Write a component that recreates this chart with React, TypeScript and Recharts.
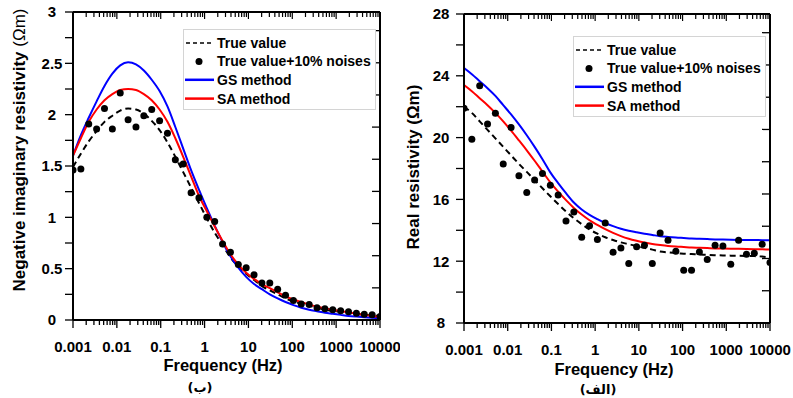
import React from 'react';
import { ComposedChart, Line, XAxis, YAxis, Legend, Label } from 'recharts';

// ---------- data ----------
const frequencies = [0.001, 0.001512, 0.002285, 0.003455, 0.005223, 0.007896, 0.01194, 0.01805, 0.02728, 0.04125,
  0.06236, 0.09428, 0.1425, 0.2154, 0.3257, 0.4924, 0.7443, 1.125, 1.701, 2.572,
  3.888, 5.878, 8.886, 13.43, 20.31, 30.7, 46.42, 70.18, 106.1, 160.4,
  242.5, 366.6, 554.1, 837.7, 1266, 1914, 2894, 4375, 6614, 10000];

const imagTrue = [1.49, 1.62, 1.74, 1.84, 1.93, 1.99, 2.04, 2.06, 2.05, 2.01,
  1.94, 1.85, 1.73, 1.59, 1.44, 1.29, 1.14, 0.99, 0.85, 0.73,
  0.61, 0.52, 0.45, 0.39, 0.33, 0.29, 0.25, 0.21, 0.18, 0.16,
  0.14, 0.12, 0.1, 0.09, 0.08, 0.07, 0.06, 0.05, 0.045, 0.04];
const imagNoisy = [1.46, 1.47, 1.91, 1.86, 2.06, 1.86, 2.21, 1.95, 1.88, 1.99,
  2.05, 1.94, 1.82, 1.56, 1.52, 1.24, 1.19, 1.0, 0.96, 0.74,
  0.66, 0.54, 0.51, 0.44, 0.36, 0.36, 0.3, 0.24, 0.19, 0.155,
  0.15, 0.12, 0.11, 0.1, 0.09, 0.08, 0.065, 0.055, 0.05, 0.035];
const imagGS = [1.6, 1.8, 1.97, 2.13, 2.28, 2.4, 2.48, 2.51, 2.49, 2.43,
  2.34, 2.23, 2.08, 1.88, 1.67, 1.46, 1.27, 1.09, 0.92, 0.76,
  0.62, 0.51, 0.42, 0.35, 0.3, 0.25, 0.21, 0.175, 0.145, 0.12,
  0.1, 0.085, 0.07, 0.06, 0.05, 0.04, 0.033, 0.027, 0.022, 0.016];
const imagSA = [1.6, 1.77, 1.93, 2.05, 2.14, 2.2, 2.24, 2.25, 2.24, 2.2,
  2.14, 2.05, 1.93, 1.77, 1.59, 1.4, 1.21, 1.06, 0.91, 0.77,
  0.64, 0.54, 0.46, 0.4, 0.35, 0.31, 0.27, 0.23, 0.2, 0.175,
  0.15, 0.13, 0.115, 0.1, 0.085, 0.075, 0.06, 0.05, 0.04, 0.03];

const realTrue = [22.0, 21.6, 21.05, 20.5, 19.95, 19.4, 18.85, 18.3, 17.78, 17.25,
  16.72, 16.2, 15.7, 15.22, 14.78, 14.4, 14.05, 13.78, 13.55, 13.37,
  13.22, 13.1, 12.98, 12.87, 12.75, 12.63, 12.57, 12.52, 12.49, 12.46,
  12.43, 12.41, 12.39, 12.37, 12.36, 12.35, 12.34, 12.33, 12.3, 12.24];
const realNoisy = [21.9, 19.9, 23.36, 20.88, 21.57, 18.29, 20.66, 17.53, 16.45, 17.25,
  17.68, 16.92, 16.28, 14.61, 15.19, 13.55, 14.29, 13.4, 14.48, 12.58,
  12.86, 11.85, 12.93, 13.04, 11.85, 13.83, 13.36, 12.65, 11.42, 11.42,
  12.6, 12.11, 13.04, 12.99, 11.8, 13.36, 12.45, 12.52, 13.1, 11.91];
const realGS = [24.5, 24.1, 23.65, 23.2, 22.7, 22.1, 21.5, 20.85, 20.15, 19.4,
  18.6, 17.75, 17.05, 16.4, 15.8, 15.35, 15.0, 14.72, 14.47, 14.27,
  14.1, 13.97, 13.87, 13.78, 13.7, 13.62, 13.57, 13.53, 13.5, 13.47,
  13.45, 13.43, 13.41, 13.4, 13.39, 13.38, 13.37, 13.37, 13.36, 13.36];
const realSA = [23.4, 23.0, 22.55, 22.1, 21.6, 21.05, 20.45, 19.82, 19.18, 18.5,
  17.8, 17.1, 16.5, 15.95, 15.45, 15.02, 14.65, 14.35, 14.07, 13.83,
  13.62, 13.45, 13.32, 13.21, 13.12, 13.05, 12.99, 12.95, 12.92, 12.89,
  12.87, 12.85, 12.83, 12.82, 12.81, 12.8, 12.79, 12.78, 12.77, 12.76];

const xMajorTicks = [0.001, 0.01, 0.1, 1, 10, 100, 1000, 10000];
const xMinorFactors = [2, 3, 4, 5, 6, 7, 8, 9];
const leftYTicks = [0, 0.25, 0.5, 0.75, 1, 1.25, 1.5, 1.75, 2, 2.25, 2.5, 2.75, 3];
const leftYLabels = [0, 0.5, 1, 1.5, 2, 2.5, 3];
const rightYTicks = [8, 10, 12, 14, 16, 18, 20, 22, 24, 26, 28];
const rightYLabels = [8, 12, 16, 20, 24, 28];
const mirrorTicks = [1, 2, 3, 4, 5, 6, 7, 8, 9];

const legendNames = ['True value', 'True value+10% noises', 'GS method', 'SA method'];

// ---------- helpers ----------
const FONT = '"Liberation Sans", Arial, Helvetica, sans-serif';
const BLUE = '#0000ff';
const RED = '#ff0000';

const xAllTicks = [
  ...xMajorTicks,
  ...xMajorTicks.slice(0, -1).flatMap((d) => xMinorFactors.map((k) => +(d * k).toPrecision(6))),
].sort((a, b) => a - b);

const isMajor = (v: number) => xMajorTicks.some((m) => Math.abs(m - v) / m < 1e-6);

const leftData = frequencies.map((f, i) => ({ f, tv: imagTrue[i], nz: imagNoisy[i], gs: imagGS[i], sa: imagSA[i] }));
const rightData = frequencies.map((f, i) => ({ f, tv: realTrue[i], nz: realNoisy[i], gs: realGS[i], sa: realSA[i] }));

const BottomTick = (props: any) => {
  const { x, y, payload } = props;
  const major = isMajor(payload.value);
  return (
    <g>
      <line x1={x} x2={x} y1={y} y2={y + (major ? 8 : 5)} stroke="#000" strokeWidth={1.3} />
      {major && (
        <text x={x} y={y + 32} textAnchor="middle" fontFamily={FONT} fontWeight="bold" fontSize={15} fill="#000">
          {String(payload.value)}
        </text>
      )}
    </g>
  );
};

// top frame ticks point down into the plot
const TopTick = (props: any) => {
  const { x, y, payload } = props;
  const major = isMajor(payload.value);
  return <line x1={x} x2={x} y1={y} y2={y + (major ? 7 : 5)} stroke="#000" strokeWidth={1.2} />;
};

// right frame ticks point left into the plot
const RightTick = (props: any) => {
  const { x, y } = props;
  return <line x1={x} x2={x - 8} y1={y} y2={y} stroke="#000" strokeWidth={1.3} />;
};

const makeYTick = (labels: number[], dx: number) => (props: any) => {
  const { x, y, payload } = props;
  if (!labels.includes(payload.value)) return <g />;
  return (
    <text x={x - dx} y={y} dy="0.36em" textAnchor="middle" fontFamily={FONT} fontWeight="bold" fontSize={15} fill="#000">
      {String(payload.value)}
    </text>
  );
};

const LegendBox = () => (
  <svg width={194} height={82} style={{ display: 'block' }}>
    <rect x={0.5} y={0.5} width={192} height={80} fill="#fff" stroke="#d4d4d4" strokeWidth={1} />
    <line x1={3} x2={30} y1={14} y2={14} stroke="#000" strokeWidth={1.6} strokeDasharray="4 3" />
    <circle cx={16} cy={32.4} r={3.5} fill="#000" />
    <line x1={2} x2={31} y1={50.8} y2={50.8} stroke={BLUE} strokeWidth={2.5} />
    <line x1={2} x2={31} y1={69.6} y2={69.6} stroke={RED} strokeWidth={2.5} />
    {legendNames.map((n, i) => (
      <text key={n} x={34} y={[14, 32.4, 50.8, 69.6][i]} dy="0.36em" fontFamily={FONT} fontWeight="bold" fontSize={14} fill="#000">
        {n}
      </text>
    ))}
  </svg>
);

function renderSeries() {
  return [
    <Line key="hx" xAxisId="t" dataKey="tv" stroke="none" strokeWidth={0} dot={false} activeDot={false} legendType="none" isAnimationActive={false} />,
    <Line key="hy" yAxisId="r" dataKey="tv" stroke="none" strokeWidth={0} dot={false} activeDot={false} legendType="none" isAnimationActive={false} />,
    <Line key="tv" dataKey="tv" name={legendNames[0]} type="monotone" stroke="#000" strokeWidth={2} strokeDasharray="6 4" dot={false} isAnimationActive={false} />,
    <Line key="gs" dataKey="gs" name={legendNames[2]} type="monotone" stroke={BLUE} strokeWidth={2} dot={false} isAnimationActive={false} />,
    <Line key="sa" dataKey="sa" name={legendNames[3]} type="monotone" stroke={RED} strokeWidth={2} dot={false} isAnimationActive={false} />,
    <Line key="nz" dataKey="nz" name={legendNames[1]} stroke="none" strokeWidth={0} dot={{ r: 3.5, fill: '#000', stroke: 'none' }} activeDot={false} isAnimationActive={false} />,
  ];
}

function FrameAxes() {
  return null;
}

export default function App() {
  const frameTop = (
    <XAxis xAxisId="t" dataKey="f" orientation="top" type="number" scale="log" domain={[0.001, 10000]} ticks={xAllTicks}
      allowDataOverflow height={1} tickSize={0} tickMargin={0} tickLine={false} tick={<TopTick />} interval={0}
      axisLine={{ stroke: '#000', strokeWidth: 2 }} />
  );
  return (
    <div style={{ position: 'absolute', left: 0, top: 0, width: 793, height: 398, background: '#fff', overflow: 'hidden' }}>
      {/* Left chart: imaginary part */}
      <div style={{ position: 'absolute', left: 0, top: 0 }}>
        <ComposedChart width={400} height={398} data={leftData} margin={{ top: 11, right: 19, bottom: 0, left: 0 }}>
          <XAxis dataKey="f" type="number" scale="log" domain={[0.001, 10000]} ticks={xAllTicks} allowDataOverflow
            height={78} tickSize={0} tickMargin={0} tickLine={false} tick={<BottomTick />} interval={0}
            axisLine={{ stroke: '#000', strokeWidth: 2 }}>
            <Label content={() => (
              <g>
                <text x={223} y={371} textAnchor="middle" fontFamily={FONT} fontWeight="bold" fontSize={16.5} fill="#000">Frequency (Hz)</text>
                <text x={200} y={392} textAnchor="middle" fontFamily='"DejaVu Sans", sans-serif' fontWeight="bold" fontSize={13} fill="#000">(ب)</text>
              </g>
            )} />
          </XAxis>
          {frameTop}
          <YAxis type="number" domain={[0, 3]} ticks={leftYTicks} width={73} allowDataOverflow interval={0}
            tickSize={8} tickMargin={0} tickLine={{ stroke: '#000', strokeWidth: 1.3 }} tick={makeYTick(leftYLabels, 13)}
            axisLine={{ stroke: '#000', strokeWidth: 2 }}>
            <Label content={() => (
              <text transform="translate(25,150) rotate(-90)" textAnchor="middle" fontFamily={FONT} fontWeight="bold" fontSize={17} fill="#000">
                Negative imaginary resistivity <tspan fontWeight="normal">(Ωm)</tspan>
              </text>
            )} />
          </YAxis>
          <YAxis yAxisId="r" orientation="right" type="number" domain={[0, 9.58]} ticks={mirrorTicks} width={1}
            allowDataOverflow interval={0} tickSize={0} tickMargin={0} tickLine={false}
            tick={<RightTick />} axisLine={{ stroke: '#000', strokeWidth: 2 }} />
          {renderSeries()}
          <Legend layout="horizontal" verticalAlign="middle" align="center"
            wrapperStyle={{ left: 183, top: 29, width: 194, height: 82 }} content={() => <LegendBox />} />
        </ComposedChart>
      </div>

      {/* Right chart: real part */}
      <div style={{ position: 'absolute', left: 400, top: 0 }}>
        <ComposedChart width={393} height={398} data={rightData} margin={{ top: 13, right: 22, bottom: 0, left: 0 }}>
          <XAxis dataKey="f" type="number" scale="log" domain={[0.001, 10000]} ticks={xAllTicks} allowDataOverflow
            height={75} tickSize={0} tickMargin={0} tickLine={false} tick={<BottomTick />} interval={0}
            axisLine={{ stroke: '#000', strokeWidth: 2 }}>
            <Label content={() => (
              <g>
                <text x={214} y={375} textAnchor="middle" fontFamily={FONT} fontWeight="bold" fontSize={16.5} fill="#000">Frequency (Hz)</text>
                <text x={198} y={394} textAnchor="middle" fontFamily='"DejaVu Sans", sans-serif' fontWeight="bold" fontSize={13} fill="#000">(الف)</text>
              </g>
            )} />
          </XAxis>
          {frameTop}
          <YAxis type="number" domain={[8, 28]} ticks={rightYTicks} width={64} allowDataOverflow interval={0}
            tickSize={8} tickMargin={0} tickLine={{ stroke: '#000', strokeWidth: 1.3 }} tick={makeYTick(rightYLabels, 15)}
            axisLine={{ stroke: '#000', strokeWidth: 2 }}>
            <Label content={() => (
              <text transform="translate(19,167) rotate(-90)" textAnchor="middle" fontFamily={FONT} fontWeight="bold" fontSize={17} fill="#000">
                Real resistivity (Ωm)
              </text>
            )} />
          </YAxis>
          <YAxis yAxisId="r" orientation="right" type="number" domain={[0, 9.58]} ticks={mirrorTicks} width={1}
            allowDataOverflow interval={0} tickSize={0} tickMargin={0} tickLine={false}
            tick={<RightTick />} axisLine={{ stroke: '#000', strokeWidth: 2 }} />
          {renderSeries()}
          <Legend layout="horizontal" verticalAlign="middle" align="center"
            wrapperStyle={{ left: 173, top: 36, width: 194, height: 82 }} content={() => <LegendBox />} />
        </ComposedChart>
      </div>
    </div>
  );
}
